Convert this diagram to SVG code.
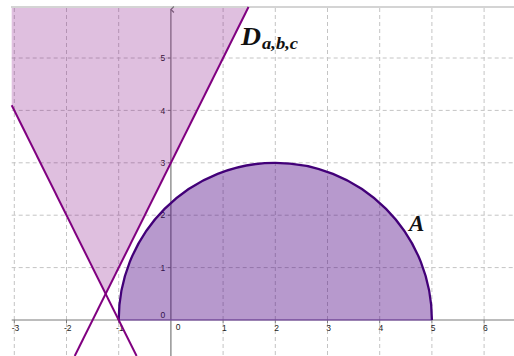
<svg xmlns="http://www.w3.org/2000/svg" width="514" height="356" viewBox="0 0 514 356">
<defs>
<style>
.grid{stroke:#c4c4c4;stroke-width:1;stroke-dasharray:4 3;fill:none}
.axis{stroke:#7a7a7a;stroke-width:1.2;fill:none}
.tick{stroke:#7a7a7a;stroke-width:1;fill:none}
.num{font-family:"Liberation Sans",Arial,sans-serif;font-size:8.5px;fill:#222}
.nx{text-anchor:middle}
.ny{text-anchor:end}
.lbl{font-family:"Liberation Serif","Times New Roman",serif;font-style:italic;font-weight:bold;fill:#111}
.line{stroke:#800080;stroke-width:2;fill:none}
</style>
<marker id="arr" viewBox="0 0 8 8" refX="4" refY="1" markerWidth="8" markerHeight="8" markerUnits="userSpaceOnUse" orient="auto-start-reverse">
<path d="M1,4 L4,1 L7,4" fill="none" stroke="#7a7a7a" stroke-width="1.2"/>
</marker>
</defs>
<rect x="0" y="0" width="514" height="356" fill="#fff"/>
<line x1="11" y1="7" x2="514" y2="7" stroke="#d4d4d4" stroke-width="2"/>
<g id="grid">
<line class="grid" x1="14.3" y1="8" x2="14.3" y2="356"/>
<line class="grid" x1="66.5" y1="8" x2="66.5" y2="356"/>
<line class="grid" x1="118.7" y1="8" x2="118.7" y2="356"/>
<line class="grid" x1="223.1" y1="8" x2="223.1" y2="356"/>
<line class="grid" x1="275.3" y1="8" x2="275.3" y2="356"/>
<line class="grid" x1="327.5" y1="8" x2="327.5" y2="356"/>
<line class="grid" x1="379.7" y1="8" x2="379.7" y2="356"/>
<line class="grid" x1="431.9" y1="8" x2="431.9" y2="356"/>
<line class="grid" x1="484.1" y1="8" x2="484.1" y2="356"/>
<line class="grid" x1="11.7" y1="267.6" x2="514" y2="267.6"/>
<line class="grid" x1="11.7" y1="215.2" x2="514" y2="215.2"/>
<line class="grid" x1="11.7" y1="162.8" x2="514" y2="162.8"/>
<line class="grid" x1="11.7" y1="110.4" x2="514" y2="110.4"/>
<line class="grid" x1="11.7" y1="58" x2="514" y2="58"/>
</g>
<g id="axes">
<line class="axis" x1="11.7" y1="320" x2="514" y2="320"/>
<line class="axis" x1="170.9" y1="356" x2="170.9" y2="9.5" marker-end="url(#arr)"/>
<path class="tick" d="M14.3,320v3M66.5,320v3M118.7,320v3M223.1,320v3M275.3,320v3M327.5,320v3M379.7,320v3M431.9,320v3M484.1,320v3M168,267.6h3M168,215.2h3M168,162.8h3M168,110.4h3M168,58h3"/>
<text class="num nx" x="15.5" y="331">-3</text>
<text class="num nx" x="67.7" y="331">-2</text>
<text class="num nx" x="119.9" y="331">-1</text>
<text class="num" x="175.7" y="330">0</text>
<text class="num nx" x="224.3" y="331">1</text>
<text class="num nx" x="276.5" y="331">2</text>
<text class="num nx" x="328.7" y="331">3</text>
<text class="num nx" x="380.9" y="331">4</text>
<text class="num nx" x="433.1" y="331">5</text>
<text class="num nx" x="485.3" y="331">6</text>
<text class="num ny" x="165.3" y="317.5">0</text>
<text class="num ny" x="165.3" y="270.7">1</text>
<text class="num ny" x="165.3" y="218.3">2</text>
<text class="num ny" x="165.3" y="165.9">3</text>
<text class="num ny" x="165.3" y="113.5">4</text>
<text class="num ny" x="165.3" y="61.1">5</text>
</g>
<g id="region-D">
<polygon points="11.7,8 248.5,8 105.65,293.8 11.7,105.2" fill="#800080" fill-opacity="0.25"/>
</g>
<g id="semicircle-A">
<path d="M118.7,320 A156.6,157.2 0 0 1 431.9,320 Z" fill="#4b0082" fill-opacity="0.4" stroke="none"/>
<line x1="118.7" y1="320" x2="431.9" y2="320" stroke="#7a4aa8" stroke-width="1.2"/>
<path d="M118.7,320 A156.6,157.2 0 0 1 431.9,320" fill="none" stroke="#420078" stroke-width="2.3"/>
</g>
<g id="connectors">
<line class="line" x1="248.5" y1="7" x2="74.7" y2="356"/>
<line class="line" x1="11.7" y1="105.2" x2="136.6" y2="356"/>
</g>
<g id="labels">
<text class="lbl" x="241" y="45" font-size="25" textLength="20" lengthAdjust="spacingAndGlyphs">D</text>
<text class="lbl" x="262" y="48.5" font-size="17" textLength="36" lengthAdjust="spacingAndGlyphs">a,b,c</text>
<text class="lbl" x="409" y="230.7" font-size="23">A</text>
</g>
</svg>
